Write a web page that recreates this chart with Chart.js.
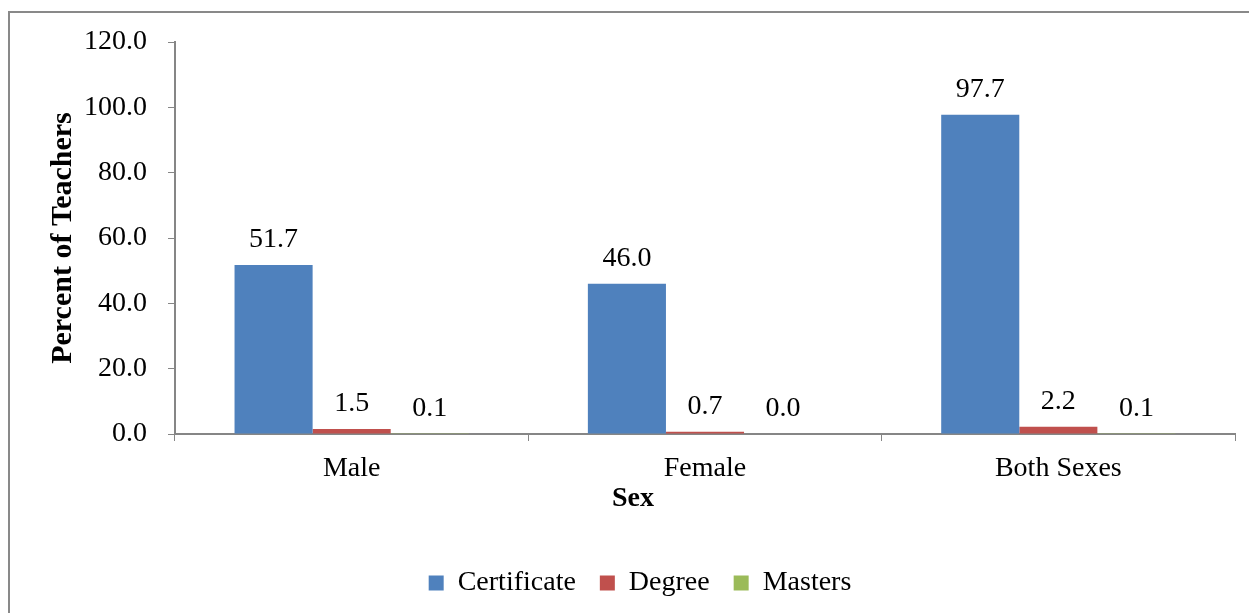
<!DOCTYPE html>
<html>
<head>
<meta charset="utf-8">
<script src="https://cdn.jsdelivr.net/npm/chart.js@4.4.1/dist/chart.umd.min.js"></script>
<style>
  html, body { margin: 0; padding: 0; background: #ffffff; overflow: hidden; }
  #wrap { position: relative; width: 1249px; height: 613px; }
  #frame {
    position: absolute; left: 8px; top: 11px; width: 1400px; height: 800px;
    border: 2px solid #898989; box-sizing: border-box; pointer-events: none;
  }
  canvas { position: absolute; left: 0; top: 0; }
</style>
</head>
<body>
<div id="wrap">
  <canvas id="chart" width="1249" height="613"></canvas>
  <div id="frame"></div>
</div>
<script>
// Teachers by qualification and sex (percent)
const categories = ['Male', 'Female', 'Both Sexes'];
const certificate = [51.7, 46.0, 97.7];
const degree = [1.5, 0.7, 2.2];
const masters = [0.1, 0.0, 0.1];
const yTicks = [0, 20, 40, 60, 80, 100, 120];

const FONT = "'Liberation Serif', 'Times New Roman', serif";
const AXIS = '#868686';

// value labels above every bar
const valueLabels = {
  id: 'valueLabels',
  afterDatasetsDraw(chart) {
    const ctx = chart.ctx;
    ctx.save();
    ctx.font = '28px ' + FONT;
    ctx.fillStyle = '#000000';
    ctx.textAlign = 'center';
    ctx.textBaseline = 'alphabetic';
    chart.data.datasets.forEach((ds, i) => {
      const meta = chart.getDatasetMeta(i);
      meta.data.forEach((el, j) => {
        ctx.fillText(ds.data[j].toFixed(1), el.x, el.y - 18);
      });
    });
    ctx.restore();
  }
};

// x axis title, set slightly left of the plot centre
const xTitle = {
  id: 'xTitle',
  afterDraw(chart) {
    const ctx = chart.ctx;
    const a = chart.chartArea;
    ctx.save();
    ctx.font = 'bold 28px ' + FONT;
    ctx.fillStyle = '#000000';
    ctx.textAlign = 'center';
    ctx.textBaseline = 'alphabetic';
    ctx.fillText('Sex', a.left + (a.right - a.left) * 0.432, a.bottom + 72);
    ctx.restore();
  }
};

new Chart(document.getElementById('chart'), {
  type: 'bar',
  data: {
    labels: categories,
    datasets: [
      { label: 'Certificate', data: certificate, backgroundColor: '#4F81BD' },
      { label: 'Degree', data: degree, backgroundColor: '#C0504D' },
      { label: 'Masters', data: masters, backgroundColor: '#9BBB59' }
    ]
  },
  options: {
    responsive: false,
    animation: false,
    devicePixelRatio: 1,
    layout: { padding: { left: 45, right: 14, top: 42, bottom: 6 } },
    datasets: { bar: { categoryPercentage: 0.663, barPercentage: 1.0 } },
    plugins: {
      legend: {
        position: 'bottom',
        labels: {
          boxWidth: 15, boxHeight: 15, padding: 24,
          color: '#000000',
          font: { family: FONT, size: 28 }
        }
      },
      tooltip: { enabled: false }
    },
    scales: {
      x: {
        afterFit(scale) { scale.height = 111; },
        grid: { display: true, drawOnChartArea: false, drawTicks: true, tickLength: 7, color: AXIS, offset: true },
        border: { display: true, color: AXIS, width: 2 },
        ticks: { color: '#000000', font: { family: FONT, size: 28 }, padding: 11 }
      },
      y: {
        min: 0, max: 120,
        afterFit(scale) { scale.width = 130; },
        afterBuildTicks(scale) { scale.ticks = yTicks.map(v => ({ value: v })); },
        grid: { display: true, drawOnChartArea: false, drawTicks: true, tickLength: 7, color: AXIS },
        border: { display: true, color: AXIS, width: 2 },
        ticks: {
          color: '#000000', font: { family: FONT, size: 28 }, padding: 21,
          callback: v => Number(v).toFixed(1)
        },
        title: {
          display: true, text: 'Percent of Teachers', color: '#000000',
          font: { family: FONT, size: 30, weight: 'bold' }, padding: { top: 0, bottom: 0 }
        }
      }
    }
  },
  plugins: [valueLabels, xTitle]
});
</script>
</body>
</html>
